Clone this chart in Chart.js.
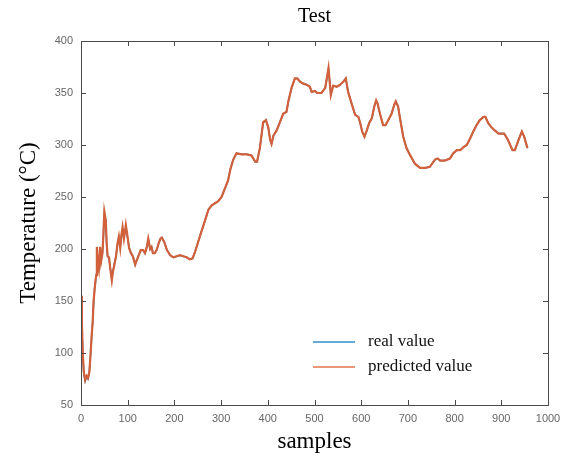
<!DOCTYPE html>
<html>
<head>
<meta charset="utf-8">
<script src="https://cdn.jsdelivr.net/npm/chart.js@4.4.1/dist/chart.umd.min.js"></script>
<style>
  html, body { margin: 0; padding: 0; background: #fff; }
  #wrap { width: 561px; height: 463px; }
</style>
</head>
<body>
<div id="wrap"><canvas id="testChart"></canvas></div>
<script>
// data (sample index, temperature in °C)
const samples = [
  0, 2, 4, 6, 9, 12, 15, 18, 21, 23, 25, 27, 29, 31, 33, 34, 36, 38, 41, 43,
  46, 48, 50, 53, 55, 57, 60, 63, 66, 68, 72, 75, 78, 81, 84, 87, 89, 92, 96, 100,
  103, 107, 111, 116, 121, 128, 133, 137, 141, 144, 148, 151, 154, 158, 162, 166, 170, 173, 178, 184,
  191, 198, 205, 212, 219, 226, 233, 239, 244, 251, 258, 266, 273, 280, 287, 294, 301, 308, 315, 320,
  326, 333, 344, 355, 365, 373, 377, 383, 390, 396, 401, 405, 408, 412, 419, 426, 433, 440, 444, 451,
  458, 463, 469, 476, 483, 490, 494, 501, 506, 515, 523, 530, 535, 540, 548, 555, 562, 567, 572, 580,
  587, 594, 598, 602, 607, 612, 617, 623, 628, 632, 635, 638, 642, 647, 652, 658, 665, 671, 674, 679,
  683, 690, 697, 705, 715, 726, 737, 747, 758, 764, 769, 779, 790, 797, 805, 812, 819, 826, 833, 840,
  847, 854, 862, 866, 872, 879, 886, 894, 900, 906, 913, 919, 924, 929, 937, 944, 949, 956
];

const realTemp = [
  154, 126, 96, 80, 73, 77, 75, 83, 101, 117, 131, 148, 162, 168, 176, 200, 184, 181, 200, 189,
  197, 213, 233, 226, 204, 193, 191, 181, 171, 178, 187, 193, 204, 211, 202, 214, 219, 211, 221, 210,
  201, 196, 193, 185, 191, 199, 199, 196, 202, 209, 200, 202, 196, 196, 199, 205, 210, 211, 207, 199,
  194, 192, 193, 194, 193, 192, 190, 191, 197, 207, 217, 228, 238, 242, 244, 246, 250, 258, 266, 277,
  286, 292, 291, 291, 290, 284, 284, 297, 321, 324, 317, 305, 301, 309, 314, 322, 330, 332, 342, 355,
  364, 364, 361, 359, 358, 356, 351, 352, 350, 350, 355, 373, 349, 357, 356, 358, 361, 364, 351, 339,
  329, 327, 321, 313, 308, 314, 321, 326, 337, 342, 340, 334, 327, 319, 319, 324, 330, 339, 342, 337,
  326, 308, 297, 290, 282, 278, 278, 279, 286, 287, 285, 285, 287, 292, 295, 295, 298, 300, 306, 313,
  319, 324, 327, 327, 321, 317, 314, 311, 311, 311, 306, 300, 295, 295, 305, 313, 308, 297
];

const predTemp = [
  155, 128, 98, 82, 74, 78, 76, 82, 103, 118, 129, 150, 160, 170, 175, 202, 185, 180, 202, 188,
  196, 215, 236, 228, 205, 193, 192, 180, 170, 177, 186, 193, 205, 212, 201, 215, 221, 210, 223, 211,
  201, 196, 193, 185, 191, 199, 199, 196, 202, 210, 200, 202, 196, 196, 199, 205, 210, 211, 207, 199,
  194, 192, 193, 194, 193, 192, 190, 191, 197, 207, 217, 228, 238, 242, 244, 246, 250, 258, 266, 277,
  286, 292, 291, 291, 290, 284, 284, 297, 322, 324, 317, 305, 301, 309, 314, 322, 330, 332, 342, 355,
  364, 364, 361, 359, 358, 356, 351, 352, 350, 350, 355, 374, 348, 357, 356, 358, 361, 364, 351, 339,
  329, 327, 321, 313, 308, 314, 321, 326, 337, 343, 340, 334, 327, 319, 319, 324, 330, 339, 342, 337,
  326, 308, 297, 290, 282, 278, 278, 279, 286, 287, 285, 285, 287, 292, 295, 295, 298, 300, 306, 313,
  319, 324, 327, 327, 321, 317, 314, 311, 311, 311, 306, 300, 295, 295, 305, 313, 308, 297
];

const xTicks = [0, 100, 200, 300, 400, 500, 600, 700, 800, 900, 1000];
const yTicks = [50, 100, 150, 200, 250, 300, 350, 400];

const serif = '"Liberation Serif", "Times New Roman", serif';
const sans = '"Liberation Sans", Arial, sans-serif';

// matlab style box with inward ticks + legend inside the axes
const matlabBox = {
  id: 'matlabBox',
  afterDraw(chart) {
    const { ctx, chartArea: a, scales } = chart;
    ctx.save();
    ctx.strokeStyle = '#4a4a4a';
    ctx.lineWidth = 1;
    ctx.strokeRect(a.left + 0.5, a.top + 0.5, a.right - a.left, a.bottom - a.top);
    const len = 5;
    ctx.beginPath();
    xTicks.forEach(v => {
      const px = Math.round(scales.x.getPixelForValue(v)) + 0.5;
      ctx.moveTo(px, a.bottom); ctx.lineTo(px, a.bottom - len);
      ctx.moveTo(px, a.top); ctx.lineTo(px, a.top + len);
    });
    yTicks.forEach(v => {
      const py = Math.round(scales.y.getPixelForValue(v)) + 0.5;
      ctx.moveTo(a.left, py); ctx.lineTo(a.left + len, py);
      ctx.moveTo(a.right, py); ctx.lineTo(a.right - len, py);
    });
    ctx.stroke();

    // legend
    const lx = a.right - 235;
    const rows = [a.bottom - 63, a.bottom - 38];
    ctx.font = '17px ' + serif;
    ctx.textBaseline = 'middle';
    chart.data.datasets.forEach((ds, i) => {
      ctx.globalAlpha = 0.6;
      ctx.strokeStyle = ds.legendColor;
      ctx.lineWidth = 2;
      ctx.beginPath();
      ctx.moveTo(lx, rows[i]); ctx.lineTo(lx + 42, rows[i]);
      ctx.stroke();
      ctx.globalAlpha = 1;
      ctx.fillStyle = '#111';
      ctx.fillText(ds.label, lx + 55, rows[i]);
    });
    ctx.restore();
  }
};

new Chart(document.getElementById('testChart'), {
  type: 'line',
  data: {
    datasets: [
      {
        label: 'real value',
        data: samples.map((s, i) => ({ x: s, y: realTemp[i] })),
        borderColor: 'rgb(0,114,189)',
        legendColor: 'rgb(0,114,189)',
        borderWidth: 1.5,
        pointRadius: 0,
        tension: 0,
        order: 1
      },
      {
        label: 'predicted value',
        data: samples.map((s, i) => ({ x: s, y: predTemp[i] })),
        borderColor: 'rgb(210,96,58)',
        legendColor: 'rgb(217,83,25)',
        borderWidth: 2.2,
        pointRadius: 0,
        tension: 0,
        order: 0
      }
    ]
  },
  options: {
    responsive: true,
    maintainAspectRatio: false,
    animation: false,
    layout: { padding: { top: 0, right: 13, bottom: 0, left: 0 } },
    plugins: {
      legend: { display: false },
      tooltip: { enabled: false },
      title: {
        display: true,
        text: 'Test',
        fullSize: false,
        color: '#000',
        font: { family: serif, size: 20, weight: 'normal' },
        padding: { top: 5, bottom: 12 }
      }
    },
    scales: {
      x: {
        type: 'linear',
        min: 0,
        max: 1000,
        afterFit(scale) {
          scale.height = 58;
          scale.paddingLeft = 0;
          scale.paddingRight = 0;
        },
        afterBuildTicks(scale) { scale.ticks = xTicks.map(v => ({ value: v })); },
        grid: { display: false, drawTicks: false },
        border: { display: false },
        ticks: {
          color: '#666',
          font: { family: sans, size: 11 },
          padding: 7,
          maxRotation: 0,
          autoSkip: false,
          callback: v => String(v)
        },
        title: {
          display: true,
          text: 'samples',
          color: '#000',
          font: { family: serif, size: 23 },
          padding: { top: 0, bottom: 7 }
        }
      },
      y: {
        type: 'linear',
        min: 50,
        max: 400,
        afterFit(scale) { scale.width = 81; },
        afterBuildTicks(scale) { scale.ticks = yTicks.map(v => ({ value: v })); },
        grid: { display: false, drawTicks: false },
        border: { display: false },
        ticks: { color: '#666', font: { family: sans, size: 11 }, padding: 8, callback: v => String(v) },
        title: {
          display: true,
          text: 'Temperature (°C)',
          color: '#000',
          font: { family: serif, size: 23 },
          padding: { top: 15, bottom: 0 }
        }
      }
    }
  },
  plugins: [matlabBox]
});
</script>
</body>
</html>
